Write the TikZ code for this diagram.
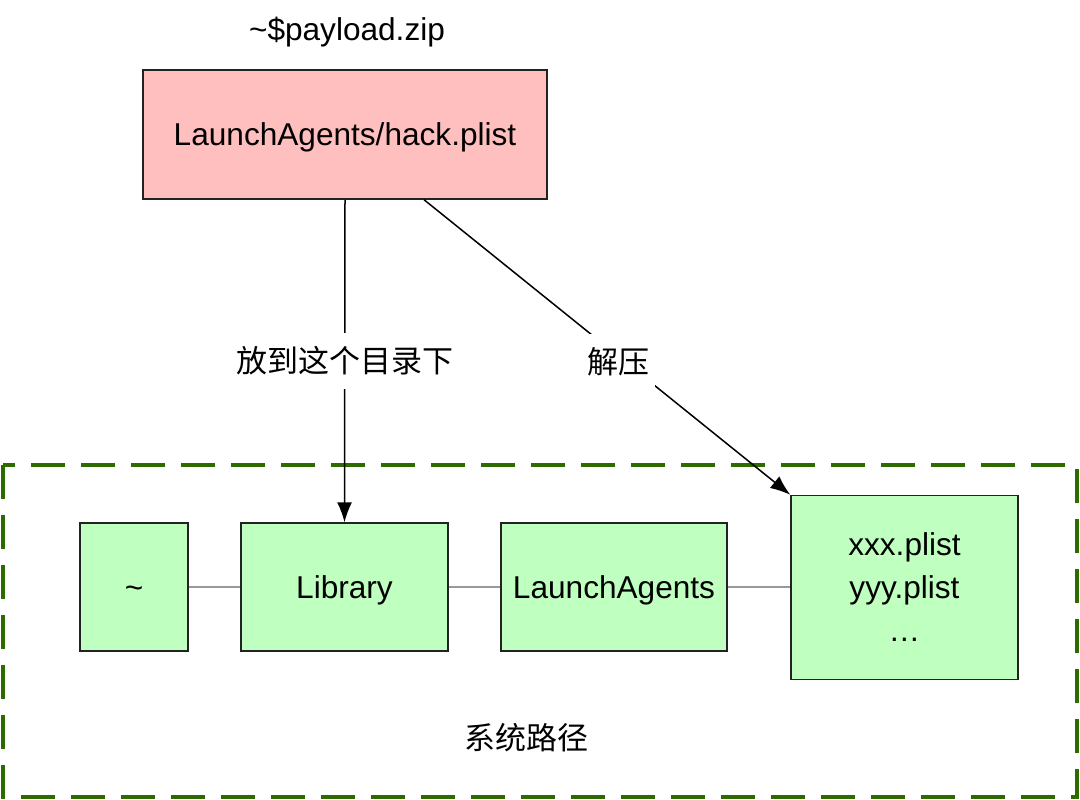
\documentclass[tikz,border=0pt]{standalone}
\usepackage{fontspec}
\setmainfont{Liberation Sans}
\newfontfamily\cjk{Noto Sans CJK SC}
\usetikzlibrary{arrows.meta,calc}
\definecolor{pinkfill}{HTML}{FFBFBF}
\definecolor{greenfill}{HTML}{BFFFC0}
\definecolor{linkgray}{HTML}{999999}
\definecolor{dashgreen}{HTML}{2D6A00}
\definecolor{boxline}{HTML}{222222}
\begin{document}
\begin{tikzpicture}[x=0.5pt,y=-0.5pt,
  every node/.style={font=\fontsize{15.8pt}{21.5pt}\selectfont},
  box/.style={draw=boxline, line width=0.75pt, inner sep=0pt, align=center},
  onel/.style={text height=11.4pt, text depth=0pt},
  pinkbox/.style={box, fill=pinkfill},
  greenbox/.style={box, fill=greenfill},
  link/.style={draw=linkgray, line width=0.75pt},
  arr/.style={draw=black, line width=0.75pt, -{Latex[length=10pt,width=7.5pt]}},
  lbl/.style={fill=white, inner xsep=3pt, inner ysep=7pt, font=\cjk\fontsize{15.5pt}{20pt}\selectfont},
  container/.style={draw=dashgreen, line width=2pt, dash pattern=on 17pt off 8pt}
]
\useasboundingbox (0,0) rectangle (1080,799);

% container
\draw[container] (3,465) rectangle (1077,797);
\node[font=\cjk\fontsize{15.5pt}{20pt}\selectfont] (syslabel) at (526,738) {系统路径};

% title
\node (zip) at (347,32) {\textasciitilde\$payload.zip};

% boxes
\node[pinkbox, onel, minimum width=202pt, minimum height=64.5pt] (hack) at (345,134.5) {LaunchAgents/hack.plist};
\node[greenbox, onel, minimum width=54pt, minimum height=64pt] (home) at (134,587) {\textasciitilde};
\node[greenbox, onel, minimum width=103.5pt, minimum height=64pt] (lib) at (344.5,587) {Library};
\node[greenbox, onel, minimum width=113pt, minimum height=64pt] (la) at (614,587) {LaunchAgents};
\node[greenbox, minimum width=113.5pt, minimum height=92pt] (files) at (904.5,587.5) {xxx.plist\\yyy.plist\\…};

% gray links
\draw[link] (home.east) -- (lib.west);
\draw[link] (lib.east) -- (la.west);
\draw[link] (la.east) -- (la.east -| files.west);

% arrows
\coordinate (hackout) at ($(hack.south west)!0.695!(hack.south east)$);
\draw[arr] (hack.south) -- node[lbl, pos=0.5] (lblput) {放到这个目录下} (lib.north);
\draw[arr] (hackout) -- node[lbl, pos=0.53, yshift=-3pt] (lblunzip) {解压} (files.north west);
\end{tikzpicture}
\end{document}
